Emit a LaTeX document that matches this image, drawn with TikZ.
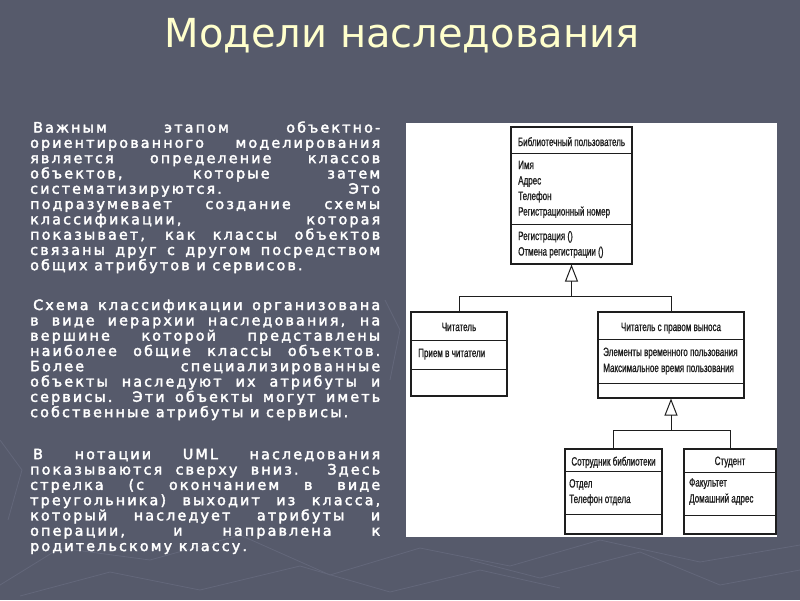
\documentclass[tikz,border=0pt]{standalone}
\usepackage{fontspec}
\usetikzlibrary{arrows.meta}
\newfontfamily\titlefont{DejaVu Sans}
\newfontfamily\bodyfont[LetterSpace=15,FakeBold=2.5]{DejaVu Sans}
\newfontfamily\dfont[FakeStretch=0.67,FakeBold=1]{Liberation Sans}
\definecolor{slidebg}{HTML}{565A6B}
\definecolor{texture}{HTML}{63677A}
\definecolor{cream}{HTML}{FFFFCC}
\definecolor{ink}{HTML}{1E1E1E}
\newcommand{\jline}[1]{\makebox[350pt][s]{#1}}
\tikzset{
  umlbox/.style={draw=ink, line width=1.1pt, fill=white, inner sep=0pt},
  divline/.style={draw=ink, line width=1pt},
  conn/.style={draw=ink, line width=1pt},
  inh/.style={draw=ink, line width=1pt, -{Triangle[open, length=17pt, width=13pt]}},
  hdr/.style={font=\dfont\fontsize{12}{14}\selectfont, text=ink, anchor=base, inner sep=0pt},
  attr/.style={font=\dfont\fontsize{12}{14}\selectfont, text=ink, anchor=base west, inner sep=0pt},
  para/.style={font=\bodyfont\fontsize{14.3}{15.3}\selectfont, text=white, anchor=north west, inner sep=0pt, align=left},
  tex/.style={draw=texture, line width=0.8pt}
}
\begin{document}
\begin{tikzpicture}[x=1pt,y=-1pt]
\useasboundingbox (0,0) rectangle (800,600);
\fill[slidebg] (0,0) rectangle (800,600);
% background texture
\draw[tex] (0,585) -- (60,548) -- (150,560) -- (240,535) -- (330,575) -- (420,548) -- (510,566) -- (600,540) -- (700,562) -- (800,545);
\draw[tex] (20,596) -- (110,572) -- (200,590) -- (300,566) -- (390,592) -- (480,570) -- (560,588);
\draw[tex] (470,560) -- (540,578) -- (640,552) -- (720,585) -- (800,570);
\draw[tex] (0,440) -- (22,470) -- (8,520);
\draw[tex] (385,300) -- (400,330) -- (390,380);
% title
\node[font=\titlefont\fontsize{40}{48}\selectfont, text=cream, anchor=base] (title) at (402,47) {Модели наследования};
% paragraphs
\node[para] (p1) at (30,121.2) {%
\jline{\hspace{3pt}Важным этапом объектно-}\\
\jline{ориентированного моделирования}\\
\jline{является определение классов}\\
\jline{объектов, которые затем}\\
\jline{систематизируются. Это}\\
\jline{подразумевает создание схемы}\\
\jline{классификации, которая}\\
\jline{показывает, как классы объектов}\\
\jline{связаны друг с другом посредством}\\
общих атрибутов и сервисов.};
\node[para] (p2) at (30,299.2) {%
\jline{\hspace{3pt}Схема классификации организована}\\
\jline{в виде иерархии наследования, на}\\
\jline{вершине которой представлены}\\
\jline{наиболее общие классы объектов.}\\
\jline{Более специализированные}\\
\jline{объекты наследуют их атрибуты и}\\
\jline{сервисы. Эти объекты могут иметь}\\
собственные атрибуты и сервисы.};
\node[para] (p3) at (30,448.6) {%
\jline{\hspace{3pt}В нотации UML наследования}\\
\jline{показываются сверху вниз. Здесь}\\
\jline{стрелка (с окончанием в виде}\\
\jline{треугольника) выходит из класса,}\\
\jline{который наследует атрибуты и}\\
\jline{операции, и направлена к}\\
родительскому классу.};
% diagram panel
\fill[white] (406,123) rectangle (777,537);
% boxes
\node[umlbox, minimum width=121pt, minimum height=137pt] (b1) at (571.5,195.5) {};
\node[umlbox, minimum width=96pt, minimum height=84pt] (b2) at (459,354) {};
\node[umlbox, minimum width=146pt, minimum height=86pt] (b3) at (671,355) {};
\node[umlbox, minimum width=97pt, minimum height=85pt] (b4) at (613.5,491.5) {};
\node[umlbox, minimum width=92pt, minimum height=85pt] (b5) at (730,491.5) {};
% dividers
\draw[divline] (511,153) -- (632,153);
\draw[divline] (511,224) -- (632,224);
\draw[divline] (411,340) -- (507,340);
\draw[divline] (411,369) -- (507,369);
\draw[divline] (598,339) -- (744,339);
\draw[divline] (598,383) -- (744,383);
\draw[divline] (565,471) -- (662,471);
\draw[divline] (565,514) -- (662,514);
\draw[divline] (684,472) -- (776,472);
\draw[divline] (684,515) -- (776,515);
% texts in boxes
\node[hdr] (b1h) at (571.5,146) {Библиотечный пользователь};
\node[attr] (b1a1) at (518,169) {Имя};
\node[attr] (b1a2) at (518,184.5) {Адрес};
\node[attr] (b1a3) at (518,200) {Телефон};
\node[attr] (b1a4) at (518,215.5) {Регистрационный номер};
\node[attr] (b1o1) at (518,240) {Регистрация ()};
\node[attr] (b1o2) at (518,255.5) {Отмена регистрации ()};
\node[hdr] (b2h) at (459,331) {Читатель};
\node[attr] (b2a1) at (418,357) {Прием в читатели};
\node[hdr] (b3h) at (671,331) {Читатель с правом выноса};
\node[attr] (b3a1) at (603,356) {Элементы временного пользования};
\node[attr] (b3a2) at (603,372) {Максимальное время пользования};
\node[hdr] (b4h) at (613.5,465.5) {Сотрудник библиотеки};
\node[attr] (b4a1) at (569,487.5) {Отдел};
\node[attr] (b4a2) at (569,503) {Телефон отдела};
\node[hdr] (b5h) at (730,465) {Студент};
\node[attr] (b5a1) at (689,486.5) {Факультет};
\node[attr] (b5a2) at (689,502.5) {Домашний адрес};
% connectors
\coordinate (j1) at (571.5,296);
\coordinate (j2) at (671,430);
\draw[conn] (b2.north) |- (j1);
\draw[conn] (b3.north) |- (j1);
\draw[inh] (j1) -- (b1.south);
\draw[conn] (b4.north) |- (j2);
\draw[conn] (b5.north) |- (j2);
\draw[inh] (j2) -- (b3.south);
\end{tikzpicture}
\end{document}
